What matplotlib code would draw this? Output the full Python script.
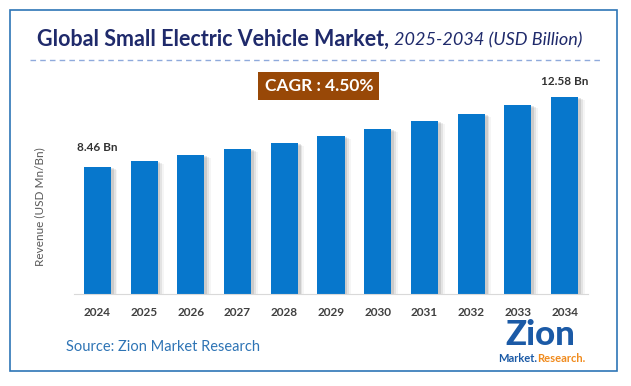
import numpy as np
import matplotlib.pyplot as plt
from matplotlib.patches import Rectangle
from matplotlib.lines import Line2D

years = ["2024", "2025", "2026", "2027", "2028", "2029", "2030", "2031", "2032", "2033", "2034"]
revenue = [8.46, 8.82, 9.17, 9.52, 9.88, 10.29, 10.70, 11.17, 11.58, 12.11, 12.58]
first_label = "8.46 Bn"
last_label = "12.58 Bn"
cagr_text = "CAGR : 4.50%"

plt.rcParams['font.family'] = ['Lato', 'DejaVu Sans']

W, H = 631, 386
fig = plt.figure(figsize=(W / 100, H / 100), dpi=100)

# frame and header decorations in figure pixel coords
def fx(px):
    return px / W

def fy(py):
    return 1 - py / H

fig.add_artist(Rectangle((fx(10), fy(371)), fx(617) - fx(10), fy(10) - fy(371),
                         transform=fig.transFigure, fill=False, ec="#2e75b6", lw=1.2))
fig.add_artist(Line2D([fx(30), fx(600)], [fy(60), fy(60)], transform=fig.transFigure,
                      color="#8faadc", lw=1, ls=(0, (4, 3))))

t1 = fig.text(fx(37), fy(39), "Global Small Electric Vehicle Market,", fontsize=15.5, fontweight="bold",
              color="#1f2a6b", va="center", ha="left")
r = fig.canvas.get_renderer()
bb = t1.get_window_extent(renderer=r)
fig.text((bb.x1 + 5) / W, fy(40), "2025-2034 (USD Billion)", fontsize=13, style="italic",
         color="#1f2a6b", va="center", ha="left")

fig.text(fx(319), fy(86), cagr_text, fontsize=12.5, fontweight="bold", color="white",
         ha="center", va="center",
         bbox=dict(boxstyle="square,pad=0.36", fc="#984807", ec="none"))

fig.text(fx(66), fy(347), "Source: Zion Market Research", fontsize=10.5, color="#2e74b5",
         ha="left", va="center")

# logo approximation
fig.text(fx(540), fy(335), "Zion", fontsize=25, fontweight="black", color="#1b5aa6",
         ha="center", va="center")
fig.text(fx(537), fy(359), "Market.", fontsize=8, fontweight="bold", color="#1b5aa6",
         ha="right", va="center")
fig.text(fx(537), fy(359), "Research.", fontsize=8, fontweight="bold", color="#f08a1c",
         ha="left", va="center")

# chart axes
ax = fig.add_axes([fx(74), fy(294), fx(588) - fx(74), fy(73) - fy(294)])
x = np.arange(len(years))
for k, a in enumerate([0.10, 0.07, 0.04]):
    ax.bar(x + 0.06 + 0.04 * k, np.array(revenue) - 0.05 * (k + 1), width=0.58,
           color="black", alpha=a, zorder=1, bottom=0, lw=0)
ax.bar(x, revenue, width=0.58, color="#0777cc", zorder=2)
ax.set_xlim(-0.5, len(years) - 0.5)
ax.set_ylim(1, 14)
ax.set_xticks(x)
ax.set_xticklabels(years, fontsize=8.5, fontweight="bold", color="#404040")
ax.tick_params(axis="x", length=0, pad=9)
ax.set_yticks([])
for s in ["top", "right", "left"]:
    ax.spines[s].set_visible(False)
ax.spines["bottom"].set_color("#d9d9d9")
ax.spines["bottom"].set_zorder(3)

ax.annotate(first_label, (0, revenue[0]), xytext=(0, 10), textcoords="offset points",
            ha="center", va="bottom", fontsize=8.5, fontweight="bold", color="#333333")
ax.annotate(last_label, (len(years) - 1, revenue[-1]), xytext=(0, 7), textcoords="offset points",
            ha="center", va="bottom", fontsize=8.5, fontweight="bold", color="#333333")

fig.text(fx(40), fy(207), "Revenue (USD Mn/Bn)", rotation=90, fontsize=8.5, color="#595959",
         ha="center", va="center")

fig.savefig("out.png", dpi=100)
